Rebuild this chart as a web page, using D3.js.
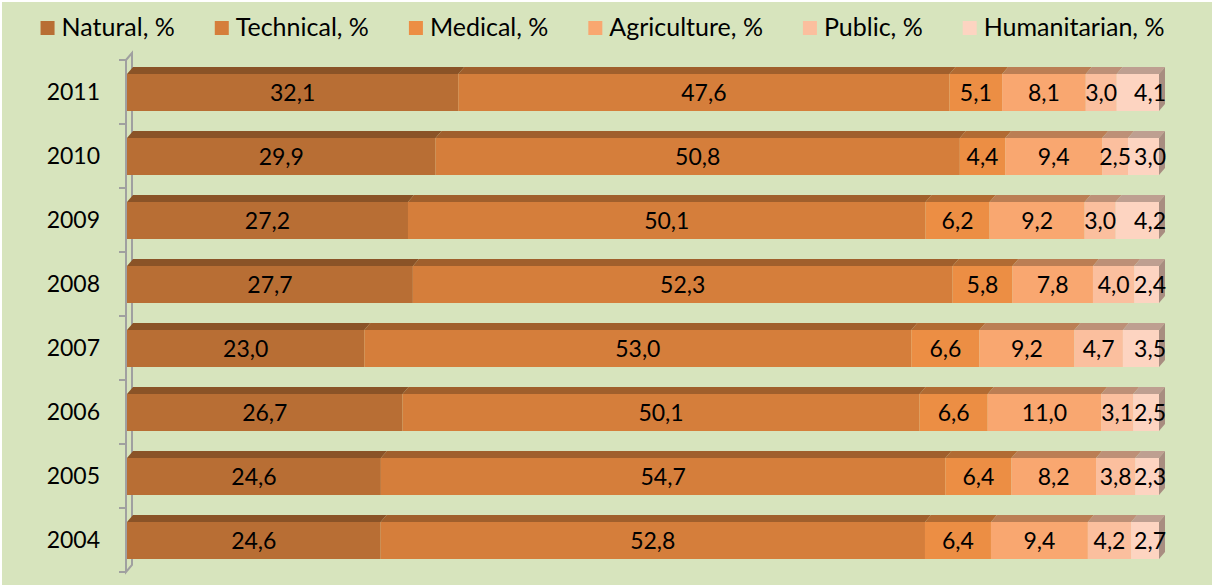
<!DOCTYPE html>
<html>
<head>
<meta charset="utf-8">
<script src="https://cdn.jsdelivr.net/npm/d3@7"></script>
<style>
  body { margin: 0; background: #fff; }
  svg { display: block; }
  text { font-family: Lato, "Open Sans", sans-serif; fill: #000; }
</style>
</head>
<body>
<svg id="chart"></svg>
<script>
const years = ['2011', '2010', '2009', '2008', '2007', '2006', '2005', '2004'];
const seriesNames = ['Natural, %', 'Technical, %', 'Medical, %', 'Agriculture, %', 'Public, %', 'Humanitarian, %'];
const natural = [32.1, 29.9, 27.2, 27.7, 23.0, 26.7, 24.6, 24.6];
const technical = [47.6, 50.8, 50.1, 52.3, 53.0, 50.1, 54.7, 52.8];
const medical = [5.1, 4.4, 6.2, 5.8, 6.6, 6.6, 6.4, 6.4];
const agriculture = [8.1, 9.4, 9.2, 7.8, 9.2, 11.0, 8.2, 9.4];
const publicSci = [3.0, 2.5, 3.0, 4.0, 4.7, 3.1, 3.8, 4.2];
const humanitarian = [4.1, 3.0, 4.2, 2.4, 3.5, 2.5, 2.3, 2.7];
const colors = ['#b86e34', '#d57e3b', '#ec8e44', '#f9a770', '#fbbf9e', '#fdd4c1'];

const W = 1212, H = 585;
const depth = { dx: 6, dy: 7 };

const allSeries = [natural, technical, medical, agriculture, publicSci, humanitarian];
const rows = years.map((yr, i) => {
    const r = { year: yr };
    seriesNames.forEach((s, k) => { r[s] = allSeries[k][i]; });
    return r;
});

const stacked = d3.stack()
    .keys(seriesNames)
    .offset(d3.stackOffsetExpand)(rows);

const svg = d3.select('#chart').attr('width', W).attr('height', H);

// chart area background
svg.append('rect')
    .attr('x', 2).attr('y', 2)
    .attr('width', W - 2).attr('height', H - 2)
    .attr('fill', '#d7e4bd');

const x = d3.scaleLinear().domain([0, 1]).range([127, 1159]);
const y = d3.scaleBand().domain(years).range([60, 572]).padding(0);
const barTop = 14, barH = 37;

// 3D axis (front line with ticks, back line)
const axisG = svg.append('g')
    .attr('stroke', '#a0a0a0')
    .attr('stroke-width', 2)
    .attr('fill', 'none');
const ax0 = 126, yA = y.range()[0], yB = y.range()[1];
axisG.append('path')
    .attr('d', `M${ax0},${yA}L${ax0 + depth.dx},${yA - depth.dy}L${ax0 + depth.dx},${yB - depth.dy}L${ax0},${yB}Z`);
const tickYs = years.map(d => y(d)).concat([yB]);
axisG.selectAll('line.tick')
    .data(tickYs)
    .join('line')
    .attr('class', 'tick')
    .attr('x1', ax0 - 7).attr('x2', ax0)
    .attr('y1', d => d).attr('y2', d => d);

// year labels
svg.append('g')
    .selectAll('text')
    .data(years)
    .join('text')
    .attr('x', 100)
    .attr('y', d => y(d) + y.bandwidth() / 2)
    .attr('dy', '0.35em')
    .attr('text-anchor', 'end')
    .attr('font-size', 23)
    .text(d => d);

// bars
const fmt = d3.formatLocale({ decimal: ',', thousands: ' ', grouping: [3], currency: ['', ''] }).format('.1f');
const last = seriesNames.length - 1;

stacked.forEach((layer, k) => {
    const g = svg.append('g');
    const col = colors[k];
    layer.forEach((seg, i) => {
        const yr = years[i];
        const x0 = x(seg[0]), x1 = x(seg[1]);
        const yt = y(yr) + barTop, yb = yt + barH;
        // top face
        g.append('path')
            .attr('d', `M${x0},${yt}L${x0 + depth.dx},${yt - depth.dy}L${x1 + depth.dx},${yt - depth.dy}L${x1},${yt}Z`)
            .attr('fill', d3.color(col).darker(0.8));
        // front face
        g.append('rect')
            .attr('x', x0).attr('y', yt)
            .attr('width', x1 - x0).attr('height', barH)
            .attr('fill', col);
        if (k === last) {
            g.append('path')
                .attr('d', `M${x1},${yt}L${x1 + depth.dx},${yt - depth.dy}L${x1 + depth.dx},${yb - depth.dy}L${x1},${yb}Z`)
                .attr('fill', d3.color(col).darker(1.15));
        }
    });
});

// value labels (last series pushed against the right edge, as in the original)
stacked.forEach((layer, k) => {
    svg.append('g')
        .selectAll('text')
        .data(layer)
        .join('text')
        .attr('x', d => k === last ? x(d[1]) + depth.dx + 1 : (x(d[0]) + x(d[1])) / 2)
        .attr('y', (d, i) => y(years[i]) + barTop + barH / 2)
        .attr('dy', '0.35em')
        .attr('text-anchor', k === last ? 'end' : 'middle')
        .attr('font-size', 23)
        .text((d, i) => fmt(allSeries[k][i]));
});

// legend
const legend = svg.append('g');
const items = legend.selectAll('g')
    .data(seriesNames)
    .join('g');
items.append('rect')
    .attr('width', 14).attr('height', 14)
    .attr('y', 21)
    .attr('fill', (d, i) => colors[i]);
items.append('text')
    .attr('x', 21)
    .attr('y', 36)
    .attr('font-size', 25)
    .text(d => d);
let cx = 0;
items.each(function () {
    const w = d3.select(this).select('text').node().getComputedTextLength();
    d3.select(this).attr('transform', `translate(${cx},0)`);
    cx += 21 + w + 40;
});
const total = cx - 40;
legend.attr('transform', `translate(${(46 + 1159) / 2 - total / 2},0)`);
</script>
</body>
</html>
